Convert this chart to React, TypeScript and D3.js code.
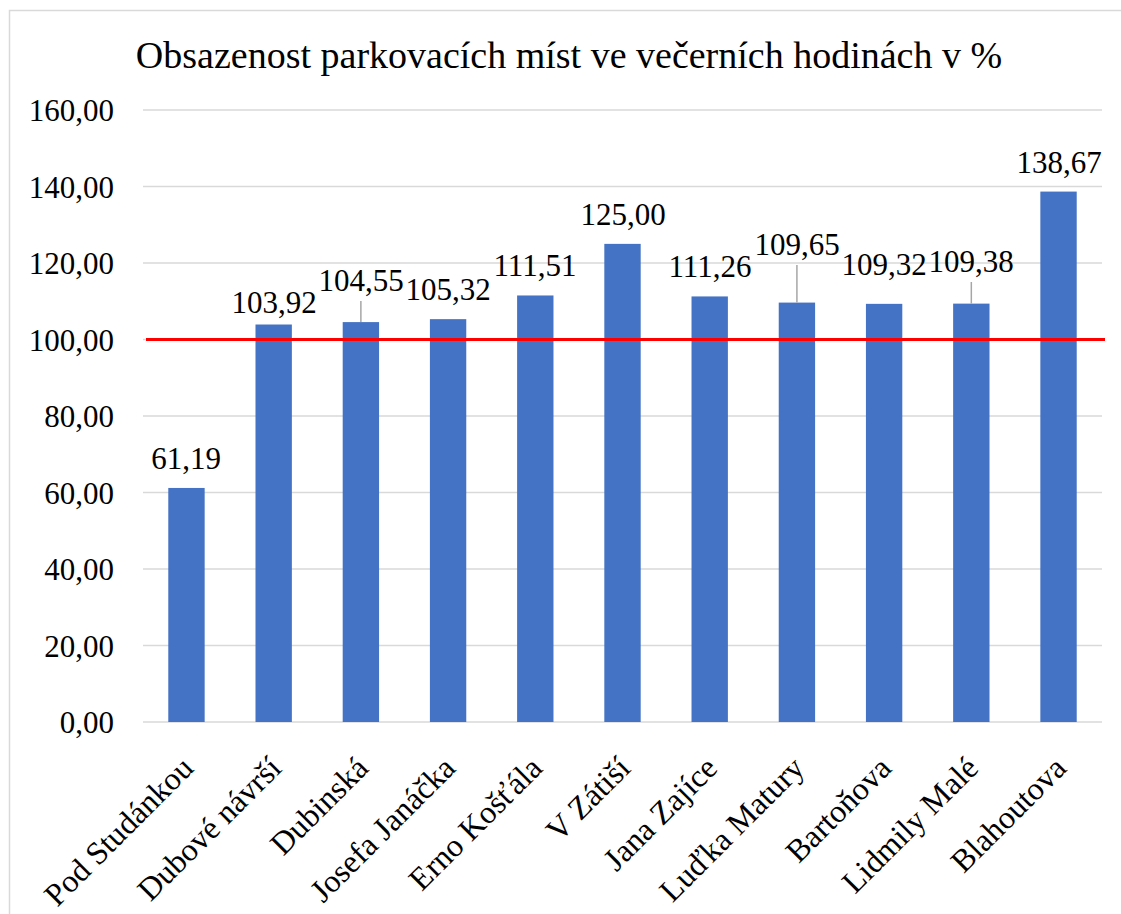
import React from "react";
import * as d3 from "d3";

const streets = [
  "Pod Studánkou",
  "Dubové návrší",
  "Dubinská",
  "Josefa Janáčka",
  "Erno Košťála",
  "V Zátiší",
  "Jana Zajíce",
  "Luďka Matury",
  "Bartoňova",
  "Lidmily Malé",
  "Blahoutova",
];
const occupancy = [61.19, 103.92, 104.55, 105.32, 111.51, 125.0, 111.26, 109.65, 109.32, 109.38, 138.67];
const yTicks = [0, 20, 40, 60, 80, 100, 120, 140, 160];
const limit = 100;

// manual label nudges (px, negative = up) and which labels get a leader line
const labelShift = [0, 7, -12, 0, 0, 0, 0, -29, -10, -13, 0];
const hasLeader = [false, false, true, false, false, false, false, true, false, true, false];

const fmt = (v: number) => d3.format(".2f")(v).replace(".", ",");

const W = 1121;
const H = 914;
const left = 143;
const right = 1102;
const top = 110;
const bottom = 722;
const F = { fontFamily: '"Times New Roman", "Liberation Serif", Tinos, serif' };

export default function App() {
  const x = d3.scaleBand<string>().domain(streets).range([left, right]).paddingInner(0.583).paddingOuter(0.29);
  const y = d3.scaleLinear().domain([0, 160]).range([bottom, top]);
  const bw = x.bandwidth();

  return (
    <svg width={W} height={H} style={{ position: "absolute", left: 0, top: 0 }}>
      <rect x={9.5} y={10.5} width={W + 20} height={H + 20} fill="white" stroke="#d9d9d9" strokeWidth={1.5} />
      <text x={569} y={68} textAnchor="middle" fontSize={38} style={F}>
        Obsazenost parkovacích míst ve večerních hodinách v %
      </text>

      {yTicks.map((t) => (
        <g key={t}>
          <line x1={left} x2={right} y1={y(t)} y2={y(t)} stroke="#d9d9d9" strokeWidth={1.5} />
          <text x={114} y={Math.round(y(t) + 11)} textAnchor="end" fontSize={31} style={F}>
            {fmt(t)}
          </text>
        </g>
      ))}

      {occupancy.map((v, i) => (
        <rect key={streets[i]} x={x(streets[i])} width={bw} y={y(v)} height={bottom - y(v)} fill="#4472c4" />
      ))}

      <line x1={left + 3} x2={right + 3} y1={y(limit)} y2={y(limit)} stroke="#ff0000" strokeWidth={3} />

      {occupancy.map((v, i) => {
        const cx = x(streets[i])! + bw / 2;
        const base = Math.round(y(v) - 19 + labelShift[i]);
        return (
          <g key={"l" + i}>
            {hasLeader[i] && <line x1={cx} x2={cx} y1={y(v)} y2={base + 10} stroke="#a6a6a6" strokeWidth={1.5} />}
            <text x={Math.round(cx)} y={base} textAnchor="middle" fontSize={31} style={F}>
              {fmt(v)}
            </text>
          </g>
        );
      })}

      {streets.map((s) => (
        <text
          key={s}
          transform={`translate(${Math.round(x(s)! + bw / 2 + 9)},770) rotate(-45)`}
          textAnchor="end"
          fontSize={32}
          style={F}
        >
          {s}
        </text>
      ))}
    </svg>
  );
}
